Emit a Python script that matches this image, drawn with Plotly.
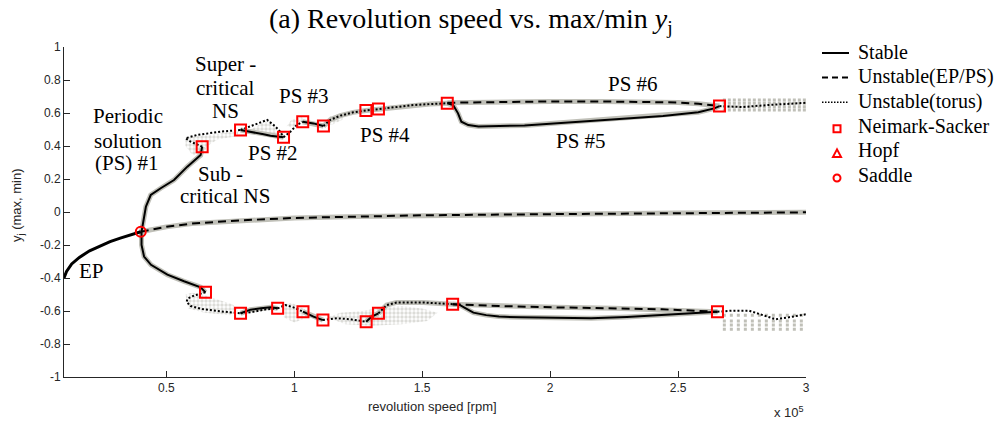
import plotly.graph_objects as go

# ---------------- data (x in units of 1e5 rpm) ----------------
x_tickvals = [0.5, 1.0, 1.5, 2.0, 2.5, 3.0]
x_ticktext = ["0.5", "1", "1.5", "2", "2.5", "3"]
y_tickvals = [-1, -0.8, -0.6, -0.4, -0.2, 0, 0.2, 0.4, 0.6, 0.8, 1]
y_ticktext = ["-1", "-0.8", "-0.6", "-0.4", "-0.2", "0", "0.2", "0.4", "0.6", "0.8", "1"]

# equilibrium point branch
ep_stable_x = [0.10, 0.11, 0.13, 0.16, 0.20, 0.24, 0.28, 0.32, 0.36, 0.40]
ep_stable_y = [-0.40, -0.36, -0.315, -0.275, -0.235, -0.205, -0.18, -0.158, -0.138, -0.12]
ep_unstable_x = [0.40, 0.50, 0.60, 0.80, 1.00, 1.25, 1.50, 2.00, 2.50, 3.00]
ep_unstable_y = [-0.12, -0.09, -0.07, -0.05, -0.036, -0.027, -0.02, -0.013, -0.006, -0.002]

# PS #1 (max and min, joined through the saddle)
ps1_x = [0.640, 0.634, 0.582, 0.530, 0.478, 0.439, 0.420, 0.410, 0.403, 0.403, 0.413, 0.440, 0.504, 0.569, 0.634, 0.653]
ps1_y = [0.396, 0.345, 0.275, 0.194, 0.144, 0.103, 0.032, -0.048, -0.120, -0.200, -0.270, -0.320, -0.380, -0.420, -0.456, -0.487]

# upper (max) branches
up_t1_x = [0.64, 0.595, 0.575, 0.62, 0.712, 0.79]
up_t1_y = [0.396, 0.426, 0.447, 0.467, 0.487, 0.497]
up_s2_x = [0.79, 0.829, 0.88, 0.907, 0.958]
up_s2_y = [0.497, 0.487, 0.471, 0.462, 0.453]
up_t2_x = [0.79, 0.84, 0.894, 0.925, 0.945, 0.958]
up_t2_y = [0.497, 0.525, 0.558, 0.52, 0.487, 0.453]
up_t3_x = [0.958, 0.985, 1.01, 1.033]
up_t3_y = [0.453, 0.487, 0.527, 0.547]
up_s3_x = [1.033, 1.075, 1.114]
up_s3_y = [0.547, 0.537, 0.521]
up_t4_x = [1.114, 1.14, 1.18, 1.23, 1.28, 1.329, 1.40, 1.465, 1.53, 1.598]
up_t4_y = [0.521, 0.558, 0.584, 0.604, 0.615, 0.624, 0.637, 0.648, 0.654, 0.659]
up_d6_x = [1.598, 1.8, 2.0, 2.2, 2.4, 2.5, 2.58, 2.662]
up_d6_y = [0.662, 0.668, 0.670, 0.670, 0.668, 0.664, 0.656, 0.642]
up_s5_x = [1.598, 1.621, 1.640, 1.653, 1.680, 1.72, 1.9, 2.166, 2.441, 2.579, 2.641, 2.662]
up_s5_y = [0.659, 0.648, 0.598, 0.547, 0.527, 0.518, 0.525, 0.553, 0.582, 0.604, 0.628, 0.642]
up_t6_x = [2.662, 2.75, 2.85, 2.95, 3.0]
up_t6_y = [0.642, 0.636, 0.648, 0.658, 0.662]

# lower (min) branches
lo_t1_x = [0.653, 0.61, 0.583, 0.579, 0.595, 0.64, 0.70, 0.751, 0.79]
lo_t1_y = [-0.487, -0.505, -0.525, -0.545, -0.57, -0.588, -0.60, -0.607, -0.614]
lo_s2_x = [0.79, 0.829, 0.87, 0.907, 0.935]
lo_s2_y = [-0.614, -0.592, -0.584, -0.578, -0.584]
lo_t2_x = [0.79, 0.84, 0.89, 0.935]
lo_t2_y = [-0.614, -0.605, -0.59, -0.584]
lo_t3_x = [0.935, 0.965, 0.997, 1.034]
lo_t3_y = [-0.584, -0.564, -0.578, -0.604]
lo_s3_x = [1.034, 1.075, 1.112]
lo_s3_y = [-0.604, -0.634, -0.655]
lo_t4_x = [1.112, 1.167, 1.218, 1.281]
lo_t4_y = [-0.655, -0.644, -0.65, -0.665]
lo_s4_x = [1.281, 1.303, 1.329]
lo_s4_y = [-0.665, -0.634, -0.614]
lo_t5_x = [1.329, 1.361, 1.40, 1.504, 1.619]
lo_t5_y = [-0.614, -0.564, -0.548, -0.548, -0.559]
lo_d6_x = [1.619, 1.8, 2.023, 2.25, 2.437, 2.654]
lo_d6_y = [-0.559, -0.57, -0.578, -0.584, -0.59, -0.604]
lo_s5_x = [1.619, 1.645, 1.665, 1.70, 1.75, 1.80, 1.884, 2.0, 2.16, 2.3, 2.437, 2.575, 2.654]
lo_s5_y = [-0.559, -0.562, -0.58, -0.61, -0.625, -0.634, -0.638, -0.642, -0.644, -0.636, -0.624, -0.612, -0.604]
lo_t6_x = [2.654, 2.712, 2.777, 2.829, 2.881, 2.933, 3.0]
lo_t6_y = [-0.604, -0.598, -0.598, -0.624, -0.65, -0.638, -0.62]

# bifurcation points
ns_x = [0.64, 0.79, 0.958, 1.033, 1.114, 1.28, 1.329, 1.598, 2.662,
        0.653, 0.79, 0.935, 1.034, 1.112, 1.281, 1.329, 1.619, 2.654]
ns_y = [0.396, 0.497, 0.453, 0.547, 0.521, 0.615, 0.624, 0.659, 0.642,
        -0.487, -0.614, -0.584, -0.604, -0.655, -0.665, -0.614, -0.559, -0.604]
saddle_x = [0.40]
saddle_y = [-0.12]

# brute-force simulation scatter regions (outlines)
clusters = [
    ([0.575, 0.65, 0.72, 0.78, 0.78, 0.70, 0.66, 0.64, 0.60, 0.575],
     [0.45, 0.465, 0.48, 0.49, 0.46, 0.44, 0.40, 0.33, 0.35, 0.40]),
    ([0.83, 0.88, 0.905, 0.93, 0.94, 0.90, 0.85],
     [0.50, 0.545, 0.55, 0.50, 0.47, 0.47, 0.485]),
    ([0.97, 0.99, 1.03, 1.04, 1.0],
     [0.52, 0.56, 0.575, 0.55, 0.51]),
    ([1.12, 1.14, 1.19, 1.19, 1.15],
     [0.53, 0.58, 0.595, 0.56, 0.53]),
    ([0.575, 0.60, 0.64, 0.70, 0.76, 0.78, 0.75, 0.65, 0.585],
     [-0.50, -0.49, -0.50, -0.53, -0.56, -0.60, -0.625, -0.61, -0.585]),
    ([0.95, 0.99, 1.04, 1.05, 1.0, 0.96],
     [-0.56, -0.55, -0.59, -0.64, -0.67, -0.64]),
    ([1.13, 1.18, 1.27, 1.33, 1.42, 1.50, 1.56, 1.52, 1.42, 1.30, 1.20],
     [-0.64, -0.61, -0.60, -0.58, -0.57, -0.585, -0.61, -0.66, -0.68, -0.69, -0.68]),
]
torus_rows_up_y = [0.618, 0.638, 0.659, 0.679]
torus_rows_lo_y = [-0.625, -0.66, -0.685, -0.71]
torus_rows_x = [2.675, 3.0]

labels = [
    ("Periodic", 0.349, 0.582), ("solution", 0.349, 0.43), ("(PS) #1", 0.345, 0.297),
    ("Super -", 0.731, 0.897), ("critical", 0.731, 0.752), ("NS", 0.731, 0.612),
    ("PS #3", 1.037, 0.703), ("PS #2", 0.915, 0.358), ("Sub -", 0.712, 0.230),
    ("critical NS", 0.731, 0.097), ("PS #4", 1.355, 0.467), ("PS #6", 2.325, 0.776),
    ("PS #5", 2.119, 0.43), ("EP", 0.209, -0.358),
]
legend_names = ["Stable", "Unstable(EP/PS)", "Unstable(torus)", "Neimark-Sacker", "Hopf", "Saddle"]

# ---------------- figure ----------------
W, H = 1006, 423
ML, MR, MT, MB = 64, 200, 47, 46
PW, PH = W - ML - MR, H - MT - MB


def px_x(px):
    return (px - ML) / PW


def px_y(py):
    return (H - MB - py) / PH


GREY = "rgb(192,192,184)"
fig = go.Figure()

for cx, cy in clusters:
    fig.add_trace(go.Scatter(x=cx + [cx[0]], y=cy + [cy[0]], mode="lines", fill="toself",
                             fillcolor="rgba(0,0,0,0)",
                             fillpattern=dict(shape=".", fgcolor="rgb(185,185,177)", bgcolor="rgba(0,0,0,0)",
                                              size=4, solidity=0.55),
                             line=dict(width=0, color="rgba(0,0,0,0)"),
                             showlegend=False, hoverinfo="skip"))
for ry in torus_rows_up_y:
    fig.add_trace(go.Scatter(x=torus_rows_x, y=[ry, ry], mode="lines",
                             line=dict(color=GREY, width=3, dash="3px,2px"), showlegend=False, hoverinfo="skip"))
for ry in torus_rows_lo_y:
    fig.add_trace(go.Scatter(x=torus_rows_x, y=[ry, ry], mode="lines",
                             line=dict(color=GREY, width=3, dash="3px,4px"), showlegend=False, hoverinfo="skip"))

solid = [(ps1_x, ps1_y), (up_s2_x, up_s2_y), (up_s3_x, up_s3_y), (up_s5_x, up_s5_y),
         (lo_s2_x, lo_s2_y), (lo_s3_x, lo_s3_y), (lo_s4_x, lo_s4_y), (lo_s5_x, lo_s5_y)]
dashed = [(ep_unstable_x, ep_unstable_y), (up_d6_x, up_d6_y), (lo_d6_x, lo_d6_y)]
dotted = [(up_t1_x, up_t1_y), (up_t2_x, up_t2_y), (up_t3_x, up_t3_y), (up_t4_x, up_t4_y), (up_t6_x, up_t6_y),
          (lo_t1_x, lo_t1_y), (lo_t2_x, lo_t2_y), (lo_t3_x, lo_t3_y), (lo_t4_x, lo_t4_y),
          (lo_t5_x, lo_t5_y), (lo_t6_x, lo_t6_y)]

# grey simulation bands under the continuation curves
for cx, cy in solid + dashed + [(up_t4_x, up_t4_y), (lo_t5_x, lo_t5_y)]:
    fig.add_trace(go.Scatter(x=cx, y=cy, mode="lines", line=dict(color=GREY, width=5),
                             showlegend=False, hoverinfo="skip"))

fig.add_trace(go.Scatter(x=ep_stable_x, y=ep_stable_y, mode="lines", line=dict(color="black", width=3),
                         showlegend=False, hoverinfo="skip"))
for cx, cy in solid:
    fig.add_trace(go.Scatter(x=cx, y=cy, mode="lines", line=dict(color="black", width=2),
                             showlegend=False, hoverinfo="skip"))
for cx, cy in dashed:
    fig.add_trace(go.Scatter(x=cx, y=cy, mode="lines", line=dict(color="black", width=2, dash="8px,5px"),
                             showlegend=False, hoverinfo="skip"))
for cx, cy in dotted:
    fig.add_trace(go.Scatter(x=cx, y=cy, mode="lines", line=dict(color="black", width=2, dash="2px,2px"),
                             showlegend=False, hoverinfo="skip"))

fig.add_trace(go.Scatter(x=ns_x, y=ns_y, mode="markers",
                         marker=dict(symbol="square-open", size=11, color="red", line=dict(width=2, color="red")),
                         showlegend=False, hoverinfo="skip"))
fig.add_trace(go.Scatter(x=saddle_x, y=saddle_y, mode="markers",
                         marker=dict(symbol="circle-open", size=10, color="red", line=dict(width=2, color="red")),
                         showlegend=False, hoverinfo="skip"))

# ---------------- manual legend ----------------
shapes = []
annotations = []
row0, row_gap = 52, 24.6
lx0, lx1, lmid, ltext = 822, 849, 837, 856
line_dashes = ["solid", "6px,4px", "1.5px,1.5px"]
line_widths = [2, 2, 1.5]
for i, name in enumerate(legend_names):
    ry = row0 + i * row_gap
    annotations.append(dict(text=name, x=px_x(ltext), y=px_y(ry), xref="paper", yref="paper",
                            xanchor="left", yanchor="middle", showarrow=False,
                            font=dict(family="Liberation Serif", size=20, color="black")))
    if i < 3:
        shapes.append(dict(type="line", xref="paper", yref="paper", x0=px_x(lx0), x1=px_x(lx1),
                           y0=px_y(ry + 1), y1=px_y(ry + 1),
                           line=dict(color="black", width=line_widths[i], dash=line_dashes[i])))
    else:
        my = ry + 3
        if name == "Neimark-Sacker":
            shapes.append(dict(type="rect", xref="paper", yref="paper", x0=px_x(lmid - 3.5), x1=px_x(lmid + 3.5),
                               y0=px_y(my - 3.5), y1=px_y(my + 3.5), line=dict(color="red", width=2)))
        elif name == "Hopf":
            path = "M {:.5f},{:.5f} L {:.5f},{:.5f} L {:.5f},{:.5f} Z".format(
                px_x(lmid), px_y(my - 4), px_x(lmid - 4), px_y(my + 3.5), px_x(lmid + 4), px_y(my + 3.5))
            shapes.append(dict(type="path", xref="paper", yref="paper", path=path, line=dict(color="red", width=2)))
        else:
            shapes.append(dict(type="circle", xref="paper", yref="paper", x0=px_x(lmid - 3.5), x1=px_x(lmid + 3.5),
                               y0=px_y(my - 3.5), y1=px_y(my + 3.5), line=dict(color="red", width=2)))

for txt, ax_, ay_ in labels:
    annotations.append(dict(text=txt, x=ax_, y=ay_, xref="x", yref="y", showarrow=False,
                            font=dict(family="Liberation Serif", size=21, color="black")))
annotations += [
    dict(text="(a) Revolution speed vs. max/min <i>y</i><sub>j</sub>", x=px_x(267), y=px_y(21),
         xref="paper", yref="paper", xanchor="left", yanchor="middle", showarrow=False,
         font=dict(family="Liberation Serif", size=28, color="black")),
    dict(text="revolution speed [rpm]", x=px_x(432), y=px_y(406), xref="paper", yref="paper",
         xanchor="center", yanchor="middle", showarrow=False,
         font=dict(family="Liberation Sans", size=13, color="#262626")),
    dict(text="x 10<sup>5</sup>", x=px_x(806), y=px_y(412), xref="paper", yref="paper",
         xanchor="right", yanchor="middle", showarrow=False,
         font=dict(family="Liberation Sans", size=13, color="#262626")),
    dict(text="y<sub>j</sub> (max, min)", x=px_x(17), y=px_y(205), xref="paper", yref="paper",
         xanchor="center", yanchor="middle", textangle=-90, showarrow=False,
         font=dict(family="Liberation Sans", size=13, color="#262626")),
]

axis_common = dict(showgrid=False, zeroline=False, showline=True, linecolor="#262626", linewidth=1,
                   ticks="inside", ticklen=6, tickcolor="#262626", mirror=False,
                   tickfont=dict(family="Liberation Sans", size=12, color="#262626"))
fig.update_layout(
    width=W, height=H,
    margin=dict(l=ML, r=MR, t=MT, b=MB),
    plot_bgcolor="white", paper_bgcolor="white",
    xaxis=dict(range=[0.1, 3.0], tickvals=x_tickvals, ticktext=x_ticktext, **axis_common),
    yaxis=dict(range=[-1, 1], tickvals=y_tickvals, ticktext=y_ticktext, **axis_common),
    annotations=annotations,
    shapes=shapes,
    showlegend=False,
)
fig.write_html("out.html")
